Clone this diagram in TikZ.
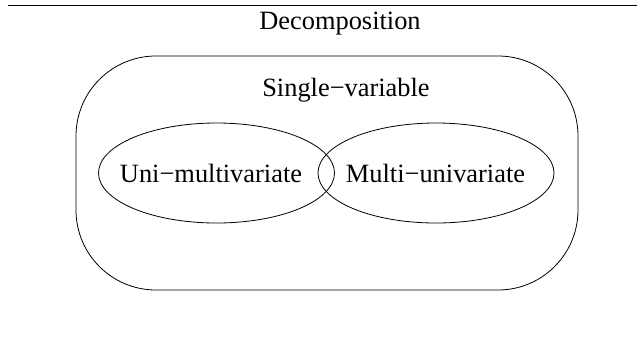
\documentclass[tikz,border=0pt]{standalone}
\usepackage{fontspec}
\setmainfont{Liberation Serif}
\usetikzlibrary{shapes.geometric}
\begin{document}
\begin{tikzpicture}[x=1pt,y=-1pt,
  lbl/.style={font=\fontsize{26.4}{30}\selectfont, inner sep=0pt},
  thin line/.style={line width=0.8pt}]
\useasboundingbox (0,0) rectangle (637,341);
\coordinate (l1) at (8,5.5);
\coordinate (l2) at (637,5.5);
\draw[thin line] (l1) -- (l2);
\node[lbl] (decomp) at (340,24) {Decomposition};
\draw[thin line, rounded corners=80pt] (76,56) rectangle (578,290);
\node[lbl] (single) at (346,90) {Single−variable};
\node[draw, thin line, ellipse, minimum width=236pt, minimum height=100pt, inner sep=0pt] (left) at (216.5,173) {};
\node[draw, thin line, ellipse, minimum width=236pt, minimum height=100pt, inner sep=0pt] (right) at (436,173) {};
\node[lbl] (uni) at (211,173) {Uni−multivariate};
\node[lbl] (multi) at (435.5,173) {Multi−univariate};
\end{tikzpicture}
\end{document}
